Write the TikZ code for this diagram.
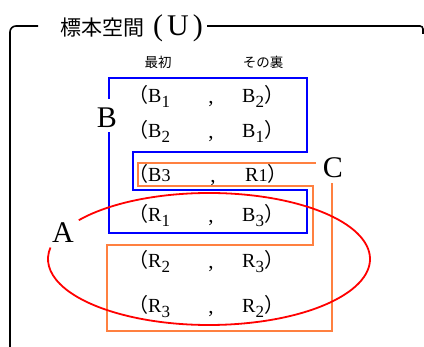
\documentclass[tikz,border=0pt]{standalone}
\usepackage{fontspec}
\setmainfont{Liberation Serif}
\newfontfamily\cjk{Noto Sans CJK JP}
\definecolor{myorange}{RGB}{255,128,64}
\newcommand\lowsub[1]{\raisebox{-5pt}{\fontsize{17}{17}\selectfont #1}}
\newcommand\plainsub[1]{{\fontsize{18}{18}\selectfont #1}}
\begin{document}
\begin{tikzpicture}[x=1pt,y=-1pt,
  frame/.style={line width=1.6pt, black},
  rowtext/.style={font=\fontsize{20}{20}\selectfont, inner sep=0pt, anchor=base west},
  commatext/.style={font=\fontsize{21}{21}\selectfont, inner sep=0pt, anchor=base},
  setlabel/.style={font=\fontsize{30}{30}\selectfont, inner sep=0pt},
  header/.style={font=\cjk\fontsize{13.5}{13.5}\selectfont, inner sep=0pt},
  blueline/.style={line width=1.8pt, blue},
  orangeline/.style={line width=1.8pt, myorange},
  redline/.style={line width=1.8pt, red}]
\useasboundingbox (0,0) rectangle (424,347);
% frame and title
\node[anchor=base west, inner sep=0pt] (title) at (60,36)
  {{\cjk\fontsize{21}{21}\selectfont 標本空間}\hspace{9pt}{\fontsize{30}{30}\selectfont (\hspace{4pt}U\hspace{4pt})}};
\coordinate (tl) at (38,26);
\coordinate (bl) at (10,347);
\coordinate (tr) at (423,26);
\coordinate (trd) at (423,34);
\draw[frame, rounded corners=6pt] (tl) -- (10,26) -- (bl);
\draw[frame, rounded corners=3pt] ([xshift=4pt]title.east |- tl) -- (tr) -- (trd);
% headers
\node[header] (h1) at (158,62) {最初};
\node[header] (h2) at (263,62) {その裏};
% rows
\node[rowtext] (r1a) at (128,103) {{\cjk （}B\lowsub{1}};
\node[commatext] (r1c) at (211,104) {,};
\node[rowtext] (r1b) at (242,103) {B\lowsub{2}{\cjk ）}};
\node[rowtext] (r2a) at (128,138) {{\cjk （}B\lowsub{2}};
\node[commatext] (r2c) at (211,139) {,};
\node[rowtext] (r2b) at (242,138) {B\lowsub{1}{\cjk ）}};
\node[rowtext] (r3a) at (128,182) {{\cjk （}B\plainsub{3}};
\node[commatext] (r3c) at (213,183) {,};
\node[rowtext] (r3b) at (245,182) {R\plainsub{1}{\cjk ）}};
\node[rowtext] (r4a) at (128,222) {{\cjk （}R\lowsub{1}};
\node[commatext] (r4c) at (211,223) {,};
\node[rowtext] (r4b) at (242,222) {B\lowsub{3}{\cjk ）}};
\node[rowtext] (r5a) at (128,268) {{\cjk （}R\lowsub{2}};
\node[commatext] (r5c) at (211,269) {,};
\node[rowtext] (r5b) at (242,268) {R\lowsub{3}{\cjk ）}};
\node[rowtext] (r6a) at (128,313) {{\cjk （}R\lowsub{3}};
\node[commatext] (r6c) at (211,314) {,};
\node[rowtext] (r6b) at (242,313) {R\lowsub{2}{\cjk ）}};
% set labels
\node[setlabel] (labB) at (107,118) {B};
\node[setlabel] (labC) at (333,168) {C};
\node[setlabel] (labA) at (63,233) {A};
% set B
\draw[blueline] (109,99) -- (109,78) -- (307,78) -- (307,152) -- (133,152) -- (133,190)
  -- (307,190) -- (307,233) -- (109,233) -- (109,132);
% set C
\draw[orangeline] (316,163) -- (138,163) -- (138,186) -- (313,186) -- (313,245)
  -- (107,245) -- (107,331) -- (332,331) -- (332,183);
% set A
\draw[redline] (209,259) ++(216:161 and 66)
  arc[start angle=216, end angle=550, x radius=161, y radius=66];
\end{tikzpicture}
\end{document}
